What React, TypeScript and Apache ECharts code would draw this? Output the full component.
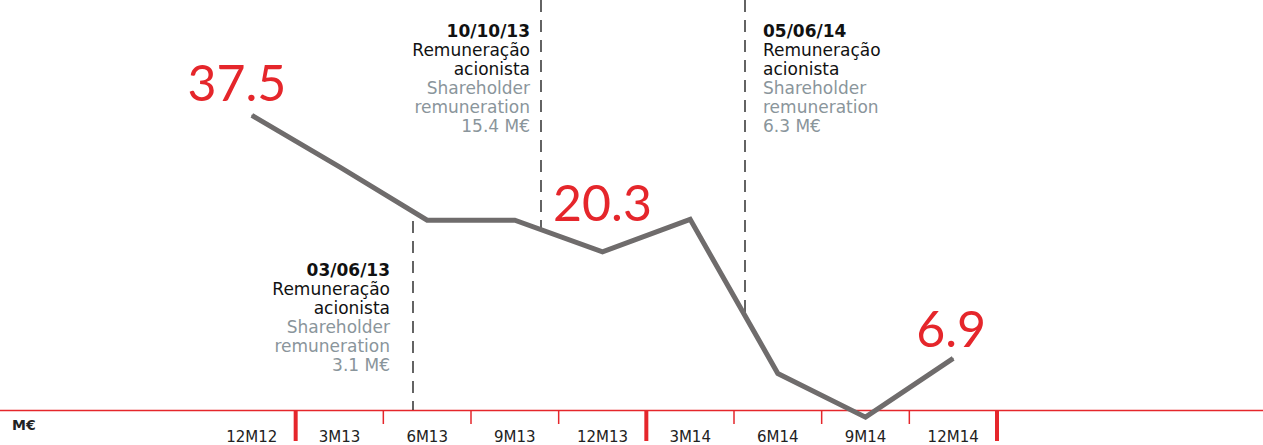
import React, { useEffect, useRef } from "react";
import * as echarts from "echarts";

const categories = ["12M12", "3M13", "6M13", "9M13", "12M13", "3M14", "6M14", "9M14", "12M14"];
const values = [37.5, 31.0, 24.3, 24.3, 20.3, 24.4, 5.0, -0.5, 6.9];
const labelledIndexes = [0, 4, 8];
const yearBoundaries = [1, 5, 9];
const quarterBoundaries = [2, 3, 4, 6, 7, 8];

const eventDates = ["03/06/13", "10/10/13", "05/06/14"];
const eventAmounts = ["3.1 M€", "15.4 M€", "6.3 M€"];
const eventPt = ["Remuneração", "acionista"];
const eventEn = ["Shareholder", "remuneration"];

const RED = "#e5262b";
const LINE = "#6f6c6c";
const GREY_TXT = "#8a959b";
const FONT = "'DejaVu Sans', sans-serif";

const labelShift: Record<number, number[]> = { 0: [-15, -3], 4: [0, -19], 8: [-2, 0] };

export default function App() {
  const ref = useRef<HTMLDivElement>(null);
  useEffect(() => {
    document.body.style.margin = "0";
    if (!ref.current) return;
    const chart = echarts.init(ref.current, undefined, { renderer: "svg" });
    const data = values.map((v, i) =>
      labelledIndexes.includes(i)
        ? {
            value: v,
            symbol: "circle",
            symbolSize: 1,
            itemStyle: { color: LINE },
            label: {
              show: true,
              position: "top",
              formatter: String(v),
              color: RED,
              fontSize: 50,
              fontWeight: "normal",
              fontFamily: "Lato, sans-serif",
            },
          }
        : { value: v, symbol: "none" }
    );
    chart.setOption({
      animation: false,
      grid: { left: 208, right: 266, top: 16, bottom: 0 },
      xAxis: {
        type: "category",
        data: categories,
        boundaryGap: true,
        offset: -34.5,
        axisLine: { show: false },
        axisTick: { show: false },
        axisLabel: { color: "#222", fontSize: 15, fontFamily: FONT, margin: 19 },
        splitLine: { show: false },
      },
      yAxis: { type: "value", min: -4, max: 50, show: false },
      series: [
        {
          type: "line",
          data,
          showSymbol: true,
          lineStyle: { color: LINE, width: 5, join: "miter" },
          labelLayout: (p: any) => {
            const s = labelShift[p.dataIndex] || [0, 0];
            return { hideOverlap: false, dx: s[0], dy: s[1] };
          },
        },
      ],
    });

    const c0 = chart.convertToPixel({ xAxisIndex: 0 }, categories[0]) as number;
    const c1 = chart.convertToPixel({ xAxisIndex: 0 }, categories[1]) as number;
    const band = c1 - c0;
    const bx = (k: number) => c0 - band / 2 + k * band;
    const axisY = 410.5;

    const graphics: any[] = [];
    graphics.push({
      type: "line",
      shape: { x1: 0, y1: axisY, x2: 1263, y2: axisY },
      style: { stroke: RED, lineWidth: 1.5 },
    });
    quarterBoundaries.forEach((k) =>
      graphics.push({
        type: "line",
        shape: { x1: bx(k), y1: axisY, x2: bx(k), y2: 424 },
        style: { stroke: RED, lineWidth: 1.5 },
      })
    );
    yearBoundaries.forEach((k) =>
      graphics.push({
        type: "line",
        shape: { x1: bx(k), y1: axisY, x2: bx(k), y2: 441 },
        style: { stroke: RED, lineWidth: 4 },
      })
    );
    graphics.push({
      type: "text",
      x: 12,
      y: 425,
      style: { text: "M€", fill: "#222", font: `bold 14px ${FONT}`, verticalAlign: "middle" },
    });

    const dashes = [
      { x: 413, y1: 221, y2: 410 },
      { x: 541, y1: 0, y2: 230 },
      { x: 745, y1: 0, y2: 316 },
    ];
    dashes.forEach((d) =>
      graphics.push({
        type: "line",
        shape: { x1: d.x, y1: d.y1, x2: d.x, y2: d.y2 },
        style: { stroke: "#111", lineWidth: 1.3, lineDash: [12, 8] },
        z: 1,
      })
    );

    const blocks = [
      { x: 390, y: 270, align: "right" },
      { x: 530, y: 31, align: "right" },
      { x: 763, y: 31, align: "left" },
    ];
    blocks.forEach((b, i) => {
      const lines = [
        { t: eventDates[i], c: "#111", w: "bold" },
        { t: eventPt[0], c: "#111", w: "normal" },
        { t: eventPt[1], c: "#111", w: "normal" },
        { t: eventEn[0], c: GREY_TXT, w: "normal" },
        { t: eventEn[1], c: GREY_TXT, w: "normal" },
        { t: eventAmounts[i], c: GREY_TXT, w: "normal" },
      ];
      lines.forEach((l, j) =>
        graphics.push({
          type: "text",
          x: b.x,
          y: b.y + j * 18.9,
          style: {
            text: l.t,
            fill: l.c,
            font: `${l.w} 17px ${FONT}`,
            align: b.align,
            verticalAlign: "middle",
          },
        })
      );
    });
    chart.setOption({ graphic: graphics });

    return () => chart.dispose();
  }, []);
  return <div ref={ref} style={{ width: 1263, height: 445 }} />;
}
